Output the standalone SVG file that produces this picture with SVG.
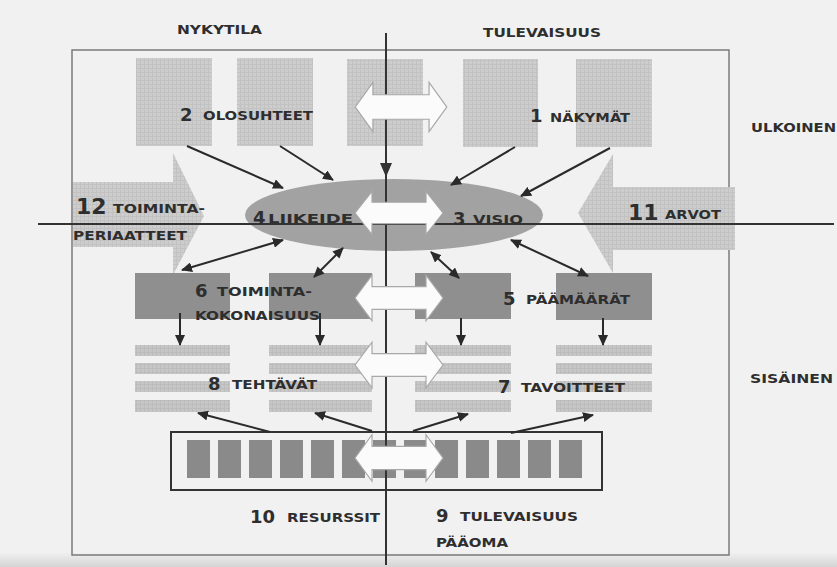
<svg xmlns="http://www.w3.org/2000/svg" width="837" height="567" viewBox="0 0 837 567">
<defs>
<pattern id="grid" width="4" height="4" patternUnits="userSpaceOnUse"><rect width="4" height="4" fill="#cdcdcd"/><path d="M0,0.5H4M0.5,0V4" stroke="#c2c2c2" stroke-width="1"/></pattern>
<pattern id="grid2" width="4" height="4" patternUnits="userSpaceOnUse"><rect width="4" height="4" fill="#c6c6c6"/><path d="M0,0.5H4M0.5,0V4" stroke="#bcbcbc" stroke-width="1"/></pattern>
<linearGradient id="bottom" x1="0" y1="0" x2="0" y2="1"><stop offset="0" stop-color="#efefef"/><stop offset="1" stop-color="#d4d4d4"/></linearGradient>
<marker id="ah" markerWidth="11" markerHeight="10" refX="10" refY="5" orient="auto-start-reverse" markerUnits="userSpaceOnUse"><path d="M0,0L11,5L0,10z" fill="#2a2a2a"/></marker>
<path id="dbl" d="M-44,0L-27,-24L-27,-12L27,-12L27,-24L44,0L27,24L27,12L-27,12L-27,24Z"/>
</defs>
<style>
.bg{fill:#f1f1f1}
.frame{fill:none;stroke:#7a7a7a;stroke-width:1.5}
.axis{stroke:#333;stroke-width:2;fill:none}
.lbox{fill:url(#grid)}
.stripe{fill:url(#grid2)}
.dbox{fill:#8f8f8f}
.sq{fill:#8a8a8a}
.ell{fill:#a2a2a2}
.big{fill:url(#grid)}
.wa{fill:#fbfbfb;stroke:#a8a8a8;stroke-width:1.2}
.con{stroke:#2a2a2a;stroke-width:2;fill:none}
text{font-family:"DejaVu Sans","Verdana",sans-serif;font-weight:bold;fill:#2e2e2e}
.n{font-size:18px}
.nb{font-size:22px}
.w{font-size:13px}
</style>
<rect class="bg" x="0" y="0" width="837" height="567"/>
<rect x="0" y="553" width="837" height="14" fill="url(#bottom)"/>
<rect class="frame" x="72" y="50" width="657" height="505"/>

<g id="top-boxes">
<rect class="lbox" x="136" y="58" width="76" height="88"/>
<rect class="lbox" x="237" y="58" width="76" height="88"/>
<rect class="lbox" x="347" y="59" width="76" height="87"/>
<rect class="lbox" x="463" y="59" width="75" height="88"/>
<rect class="lbox" x="576" y="59" width="76" height="88"/>
</g>

<g id="arrow12">
<path class="big" d="M73,182H173V153L204,216L173,275V247H73Z"/>
</g>
<g id="arrow11">
<path class="big" d="M735,187H613V154L578,213L613,273V250H735Z"/>
</g>

<g id="ellipse4-3">
<ellipse class="ell" cx="394" cy="215" rx="149" ry="36"/>
</g>

<g id="row6">
<rect class="dbox" x="135" y="273" width="95" height="46"/>
<rect class="dbox" x="269" y="273" width="103" height="46"/>
<rect class="dbox" x="415" y="273" width="96" height="46"/>
<rect class="dbox" x="556" y="273" width="96" height="47"/>
</g>

<g id="row8">
<rect class="stripe" x="135" y="345" width="95" height="11"/>
<rect class="stripe" x="135" y="363" width="95" height="11"/>
<rect class="stripe" x="135" y="381" width="95" height="11"/>
<rect class="stripe" x="135" y="400" width="95" height="12"/>
<rect class="stripe" x="269" y="345" width="103" height="11"/>
<rect class="stripe" x="269" y="363" width="103" height="11"/>
<rect class="stripe" x="269" y="381" width="103" height="11"/>
<rect class="stripe" x="269" y="400" width="103" height="12"/>
<rect class="stripe" x="415" y="345" width="96" height="11"/>
<rect class="stripe" x="415" y="363" width="96" height="11"/>
<rect class="stripe" x="415" y="381" width="96" height="11"/>
<rect class="stripe" x="415" y="400" width="96" height="12"/>
<rect class="stripe" x="556" y="345" width="96" height="11"/>
<rect class="stripe" x="556" y="363" width="96" height="11"/>
<rect class="stripe" x="556" y="381" width="96" height="11"/>
<rect class="stripe" x="556" y="400" width="96" height="12"/>
</g>

<g id="resources">
<rect x="171" y="432" width="431" height="58" fill="none" stroke="#333" stroke-width="2"/>
<rect class="sq" x="187" y="440" width="23" height="38"/>
<rect class="sq" x="218" y="440" width="23" height="38"/>
<rect class="sq" x="249" y="440" width="23" height="38"/>
<rect class="sq" x="280" y="440" width="23" height="38"/>
<rect class="sq" x="311" y="440" width="23" height="38"/>
<rect class="sq" x="342" y="440" width="23" height="38"/>
<rect class="sq" x="373" y="440" width="23" height="38"/>
<rect class="sq" x="404" y="440" width="23" height="38"/>
<rect class="sq" x="435" y="440" width="23" height="38"/>
<rect class="sq" x="466" y="440" width="23" height="38"/>
<rect class="sq" x="497" y="440" width="23" height="38"/>
<rect class="sq" x="528" y="440" width="23" height="38"/>
<rect class="sq" x="559" y="440" width="23" height="38"/>
</g>

<g id="axes">
<path class="axis" d="M386,33V565"/>
<path d="M380,163H392L386,177Z" fill="#333"/>
<path class="axis" d="M38,224H834"/>
</g>

<g id="labels">
<text class="w" x="177" y="34" textLength="85" lengthAdjust="spacingAndGlyphs">NYKYTILA</text>
<text class="w" x="483" y="37" textLength="118" lengthAdjust="spacingAndGlyphs">TULEVAISUUS</text>
<text class="w" x="751" y="132" textLength="85" lengthAdjust="spacingAndGlyphs">ULKOINEN</text>
<text class="w" x="750" y="383" textLength="83" lengthAdjust="spacingAndGlyphs">SISÄINEN</text>
</g>

<g id="label2"><text x="180" y="121"><tspan class="n">2</tspan><tspan class="w" x="203" y="120" textLength="110" lengthAdjust="spacingAndGlyphs">OLOSUHTEET</tspan></text></g>
<g id="label1"><text x="530" y="122"><tspan class="n">1</tspan><tspan class="w" x="550" y="122" textLength="80" lengthAdjust="spacingAndGlyphs">NÄKYMÄT</tspan></text></g>
<g id="label12"><text x="76" y="214"><tspan class="nb">12</tspan><tspan class="w" x="113" y="213" textLength="92" lengthAdjust="spacingAndGlyphs">TOIMINTA-</tspan><tspan class="w" x="73" y="240" textLength="114" lengthAdjust="spacingAndGlyphs">PERIAATTEET</tspan></text></g>
<g id="label4"><text x="253" y="224"><tspan class="n">4</tspan><tspan class="w" x="268" y="223" textLength="85" lengthAdjust="spacingAndGlyphs">LIIKEIDE</tspan></text></g>
<g id="label3"><text x="453" y="225"><tspan class="n">3</tspan><tspan class="w" x="473" y="224" textLength="50" lengthAdjust="spacingAndGlyphs">VISIO</tspan></text></g>
<g id="label11"><text x="628" y="220"><tspan class="nb">11</tspan><tspan class="w" x="665" y="219" textLength="56" lengthAdjust="spacingAndGlyphs">ARVOT</tspan></text></g>
<g id="label6"><text x="195" y="297"><tspan class="n">6</tspan><tspan class="w" x="217" y="296" textLength="95" lengthAdjust="spacingAndGlyphs">TOIMINTA-</tspan><tspan class="w" x="195" y="320" textLength="125" lengthAdjust="spacingAndGlyphs">KOKONAISUUS</tspan></text></g>
<g id="label5"><text x="503" y="305"><tspan class="n">5</tspan><tspan class="w" x="526" y="304" textLength="104" lengthAdjust="spacingAndGlyphs">PÄÄMÄÄRÄT</tspan></text></g>
<g id="label8"><text x="208" y="390"><tspan class="n">8</tspan><tspan class="w" x="232" y="389" textLength="85" lengthAdjust="spacingAndGlyphs">TEHTÄVÄT</tspan></text></g>
<g id="label7"><text x="498" y="393"><tspan class="n">7</tspan><tspan class="w" x="521" y="392" textLength="104" lengthAdjust="spacingAndGlyphs">TAVOITTEET</tspan></text></g>
<g id="label10"><text x="250" y="523"><tspan class="n">10</tspan><tspan class="w" x="287" y="522" textLength="93" lengthAdjust="spacingAndGlyphs">RESURSSIT</tspan></text></g>
<g id="label9"><text x="436" y="522"><tspan class="n">9</tspan><tspan class="w" x="460" y="521" textLength="118" lengthAdjust="spacingAndGlyphs">TULEVAISUUS</tspan><tspan class="w" x="436" y="547" textLength="72" lengthAdjust="spacingAndGlyphs">PÄÄOMA</tspan></text></g>

<g id="connectors">
<use href="#dbl" class="wa" transform="translate(401,107) scale(1.04,1.02)"/>
<use href="#dbl" class="wa" transform="translate(399,213) scale(1,0.9)"/>
<use href="#dbl" class="wa" transform="translate(399,298) scale(1,0.95)"/>
<use href="#dbl" class="wa" transform="translate(399,365) scale(1,0.95)"/>
<use href="#dbl" class="wa" transform="translate(399,458) scale(1,0.97)"/>
<path class="con" d="M187,146L283,188" marker-end="url(#ah)"/>
<path class="con" d="M280,146L333,180" marker-end="url(#ah)"/>
<path class="con" d="M515,147L451,185" marker-end="url(#ah)"/>
<path class="con" d="M610,148L521,196" marker-end="url(#ah)"/>
<path class="con" d="M283,240L182,270" marker-start="url(#ah)" marker-end="url(#ah)"/>
<path class="con" d="M343,248L314,277" marker-start="url(#ah)" marker-end="url(#ah)"/>
<path class="con" d="M431,252L459,278" marker-start="url(#ah)" marker-end="url(#ah)"/>
<path class="con" d="M511,240L588,276" marker-start="url(#ah)" marker-end="url(#ah)"/>
<path class="con" d="M180,313V345" marker-end="url(#ah)"/>
<path class="con" d="M320,313V345" marker-end="url(#ah)"/>
<path class="con" d="M461,318V345" marker-end="url(#ah)"/>
<path class="con" d="M603,318V345" marker-end="url(#ah)"/>
<path class="con" d="M270,432L198,413" marker-end="url(#ah)"/>
<path class="con" d="M372,431L315,413" marker-end="url(#ah)"/>
<path class="con" d="M413,431L468,414" marker-end="url(#ah)"/>
<path class="con" d="M511,433L593,415" marker-end="url(#ah)"/>
</g>
</svg>
